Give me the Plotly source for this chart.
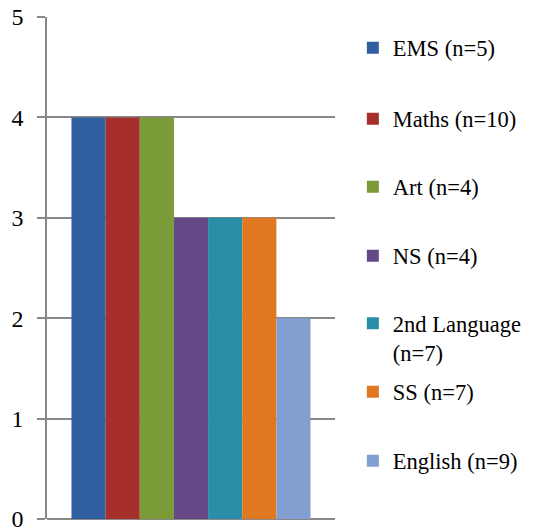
import plotly.graph_objects as go

subjects = ["EMS (n=5)", "Maths (n=10)", "Art (n=4)", "NS (n=4)",
            "2nd Language<br>(n=7)", "SS (n=7)", "English (n=9)"]
values = [4, 4, 4, 3, 3, 3, 2]
colors = ["#2F5F9E", "#A62E2B", "#7A9B37", "#664887",
          "#2B8EA8", "#E07822", "#819FD0"]
y_ticks = [0, 1, 2, 3, 4, 5]

# legend entry vertical centres in pixels (reference image)
legend_centres = [48, 119, 187, 256, 338, 392, 461]

SERIF = "Liberation Serif"
OFF = 8  # page body margin

W, H = 533 - OFF, 531 - OFF
L, R, T, B = 47 - OFF, W - (335 - OFF), 17 - OFF, H - (519 - OFF)
plot_h = H - T - B

fig = go.Figure()
layout_legends = {}
for i, (name, v, c, cy) in enumerate(zip(subjects, values, colors, legend_centres)):
    key = "legend" if i == 0 else f"legend{i+1}"
    fig.add_trace(go.Bar(
        x=["all"], y=[v], name=name, marker=dict(color=c, line=dict(width=0)),
        legend=key, hoverinfo="name+y",
    ))
    layout_legends[key] = dict(
        x=1.062, xanchor="left",
        y=(H - B - (cy - OFF)) / plot_h, yanchor="middle",
        valign="top",
        bgcolor="rgba(0,0,0,0)", borderwidth=0,
        font=dict(family=SERIF, size=22.5, color="#000000"),
    )

fig.update_layout(
    width=W, height=H,
    margin=dict(l=L, r=R, t=T, b=B, pad=0, autoexpand=False),
    plot_bgcolor="white", paper_bgcolor="white",
    barmode="group", bargap=0.17, bargroupgap=0,
    showlegend=True,
    font=dict(family=SERIF, color="#000000"),
    **layout_legends,
)
fig.update_xaxes(showticklabels=False, showgrid=False, showline=False,
                 zeroline=False, ticks="", automargin=False)
fig.update_yaxes(range=[0, 5], tickvals=y_ticks, showgrid=True, automargin=False,
                 gridcolor="#888888", gridwidth=1.5,
                 zeroline=True, zerolinecolor="#888888", zerolinewidth=1.5,
                 showline=True, linecolor="#888888", linewidth=1.5,
                 ticks="outside", ticklen=8, tickcolor="#888888", tickwidth=1.5,
                 ticklabelstandoff=9, ticklabeloverflow="allow",
                 tickfont=dict(family=SERIF, size=24, color="#000000"))

fig.write_html("out.html")
